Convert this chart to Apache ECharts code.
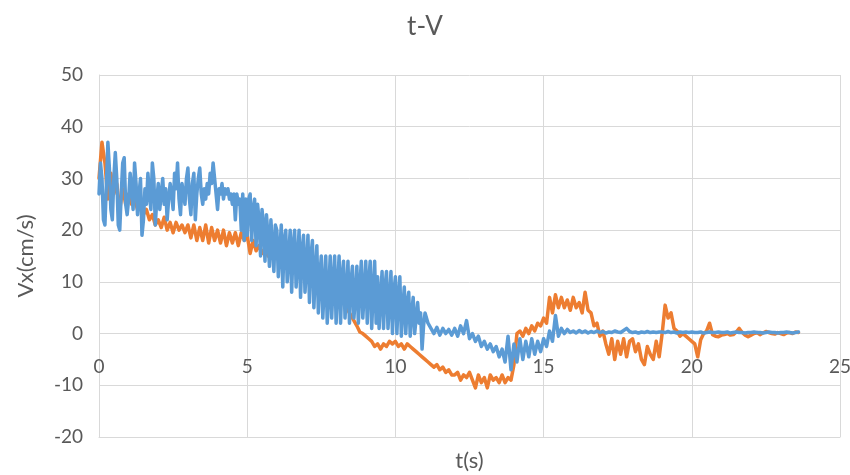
<!DOCTYPE html>
<html><head><meta charset="utf-8">
<script src="https://cdn.jsdelivr.net/npm/echarts@6/dist/echarts.min.js"></script>
<style>html,body{margin:0;padding:0;background:#fff}#c{width:850px;height:475px}</style>
</head><body><div id="c"></div>
<script>
// Orange series: one value every 0.1 s from t = 0
const orangeStart = 0;
const orangeStep = 0.1;
const orangeV = [
  30, 37, 33, 26, 31, 27, 29, 24, 28, 25,
  27, 25, 26, 24, 25, 23, 24, 22, 23, 21,
  22, 20.5, 22.5, 20, 21.5, 19.5, 21.5, 20, 21, 19.5,
  21, 18.5, 21, 18, 20.5, 18, 21, 17.5, 20.5, 18,
  20, 17.5, 20, 17, 19.5, 17.5, 19.5, 17, 19.5, 18,
  19, 15.5, 18, 16, 17, 15.5, 16.5, 15, 16, 14.5,
  15, 13.5, 14.5, 13, 14, 12.5, 13.5, 12, 13, 11.5,
  12, 10.5, 11, 10, 10.5, 9, 10, 8.5, 9, 8,
  8, 7, 7.5, 6, 4.5, 3.5, 2.5, 1.5, 0.3, 0,
  -0.5, -1, -1.5, -2.5, -2, -3, -2, -2.5, -1.5, -2,
  -1.5, -2.5, -2, -3, -2, -2.5, -3, -3.5, -4, -4.5,
  -5, -5.5, -6, -6.5, -6, -7, -6.5, -7.5, -7, -8,
  -8, -7.5, -9, -8, -8.5, -7.5, -9, -10.5, -8, -9.5,
  -8.5, -10.5, -8, -9, -8.5, -9.5, -8, -9.5, -8.5, -9,
  -6, 0, 0.5, -0.5, 1, 0, 1.5, 0.5, 2, 1.5,
  3, 2, 7, 4, 7.5, 5, 7, 5, 6.5, 4.5,
  7, 5, 6, 4, 8, 4.5, 4, 1.5, 2, -0.5,
  0.5, -2, -4, -1, -5, -1.5, -4, -1, -4.5, -1.5,
  -1, -3.5, -2, -5, -6, -2.5, -4, -5, -1.5, -4.5,
  0, 5.5, 3, 4, 1, 0.5, -0.5, 0, -0.5, -1,
  -1.5, -2, -4.5, -1.2, 0, 0.5, 2, -0.2, -0.5, -0.6,
  -0.3, -0.2, 0, -0.3, -0.2, 0.3, 1, 0.2, -0.3, -0.6,
  -0.3, 0, 0.2, -0.2, 0.1, 0.4, 0.2, 0, -0.1, 0.2,
  0, -0.2, 0.1, 0.2, 0, 0.3, 0.2
];

// Blue series, part A: one value every 0.05 s from t = 0 to 10.95
const blueAStart = 0;
const blueAStep = 0.05;
const blueA = [
  27, 33, 30, 22, 21, 29, 37, 32, 24, 22, 30, 35, 30, 21, 20, 27, 33, 34, 25, 23,
  26, 31, 28, 24, 33, 29, 23, 27, 30, 19, 22, 28, 25, 31, 27, 24, 33, 30, 21, 26,
  29, 24, 27, 30, 25, 28, 22, 26, 29, 27, 24, 31, 28, 33, 26, 23, 29, 27, 25, 30,
  32, 26, 23, 29, 31, 22, 27, 30, 32, 27, 25, 28, 26, 29, 27, 31, 29, 33, 30, 27,
  24, 28, 27, 29, 26, 28, 27, 28, 26, 27, 25, 27, 22, 27, 25, 26, 20, 27, 18, 26,
  19, 26, 27, 18, 24, 26, 17, 25, 22, 15, 24, 21, 14, 23, 19, 13, 22, 17, 12, 21,
  20, 11, 16, 21, 9, 18, 20, 10, 15, 20, 8, 17, 20, 9, 14, 20, 7, 16, 19, 8,
  13, 19, 6, 15, 18, 5, 12, 17, 4, 11, 15, 3, 9, 15, 2, 8, 15, 3, 10, 15,
  2, 9, 15, 2, 11, 14, 3, 8, 14, 2, 10, 13, 3, 7, 13, 2, 9, 14, 3, 8,
  14, 2, 10, 14, 1, 8, 14, 2, 11, 1, 7, 12, 1, 9, 12, 1, 6, 12, 0, 8,
  11, 0, 7, 11, -0.5, 5, 9, 0, 6, 8, -0.5, 4, 7, 0, 3, 6, 2, 4, -3, 1.5
];

// Blue series, part B: one value every 0.1 s from t = 11.0 to 23.6
const blueBStart = 11;
const blueBStep = 0.1;
const blueB = [
  4, 2, 1, 0, 1.2, -0.3, 1, 0, 0.8, -0.3,
  1, -0.5, 1.5, 0, 2.5, -1, 0, -1.5, -0.5, -2.5,
  -1.5, -3, -2, -3.5, -2.5, -4.5, -3, -5.5, -0.5, -7,
  -2, -5.5, -1, -5, -1.5, -4.5, -1, -4, -1.5, -3.5,
  -1, -2.5, 0.5, -1.5, 3.5, -0.5, 1, 0, 0.8, 0.2,
  0.5, 0.1, 0.6, 0.2, 0.5, 0.1, 0.4, 0.2, 0.5, 0.2,
  0.4, 0.1, 0.3, 0.2, 0.5, 0.3, 0.2, 0.6, 1.0, 0.4,
  0.2, 0.3, 0.1, 0.3, 0.2, 0.4, 0.2, 0.3, 0.2, 0.3,
  0.3, 0.2, 0.4, 0.2, 0.3, 0.1, 0.3, 0.2, 0.3, 0.2,
  0.3, 0.2, 0.2, 0.3, 0.1, 0.2, 0.3, 0.2, 0.2, 0.3,
  0.2, 0.2, 0.3, 0.1, 0.2, 0.3, 0.2, 0.2, 0.1, 0.2,
  0.2, 0.3, 0.2, 0.2, 0.1, 0.2, 0.3, 0.2, 0.2, 0.1,
  0.2, 0.2, 0.3, 0.2, 0.1, 0.2, 0.3
];

const xAxisRange = [0, 25, 5];
const yAxisRange = [-20, 50, 10];
const titleText = 't-V';
const xName = 't(s)';
const yName = 'Vx(cm/s)';

function toPairs(vals, start, step) {
  return vals.map((v, i) => [+(start + i * step).toFixed(3), v]);
}
const orangeData = toPairs(orangeV, orangeStart, orangeStep);
const blueData = toPairs(blueA, blueAStart, blueAStep).concat(toPairs(blueB, blueBStart, blueBStep));

const FONT = "Lato, 'Open Sans', sans-serif";
const TXT = '#595959';
const GRID = '#d9d9d9';
const chart = echarts.init(document.getElementById('c'), null, {renderer: 'canvas'});
chart.setOption({
  animation: false,
  backgroundColor: '#ffffff',
  title: {
    text: titleText, left: 'center', top: 9,
    textStyle: {fontFamily: FONT, fontSize: 26, fontWeight: 'normal', color: TXT}
  },
  grid: {left: 99, right: 10, top: 75, bottom: 38, containLabel: false, outerBoundsMode: 'none'},
  xAxis: {
    type: 'value', min: xAxisRange[0], max: xAxisRange[1], interval: xAxisRange[2],
    name: xName, nameLocation: 'middle', nameGap: 13,
    nameTextStyle: {fontFamily: FONT, fontSize: 22, color: TXT},
    axisLine: {show: true, onZero: false, lineStyle: {color: GRID, width: 1}},
    axisTick: {show: false},
    axisLabel: {fontFamily: FONT, fontSize: 19, color: TXT, margin: -80},
    splitLine: {show: true, lineStyle: {color: GRID, width: 1}}
  },
  yAxis: {
    type: 'value', min: yAxisRange[0], max: yAxisRange[1], interval: yAxisRange[2],
    name: yName, nameLocation: 'middle', nameGap: 62, nameRotate: 90,
    nameTextStyle: {fontFamily: FONT, fontSize: 22, color: TXT},
    axisLine: {show: true, lineStyle: {color: GRID, width: 1}},
    axisTick: {show: false},
    axisLabel: {fontFamily: FONT, fontSize: 19, color: TXT, margin: 16},
    splitLine: {show: true, lineStyle: {color: GRID, width: 1}}
  },
  series: [
    {type: 'line', name: 'orange', data: orangeData, showSymbol: false,
     lineStyle: {color: '#ED7D31', width: 3.5, join: 'round', cap: 'round'}, itemStyle: {color: '#ED7D31'}},
    {type: 'line', name: 'blue', data: blueData, showSymbol: false,
     lineStyle: {color: '#5B9BD5', width: 3.5, join: 'round', cap: 'round'}, itemStyle: {color: '#5B9BD5'}}
  ]
});
</script></body></html>
